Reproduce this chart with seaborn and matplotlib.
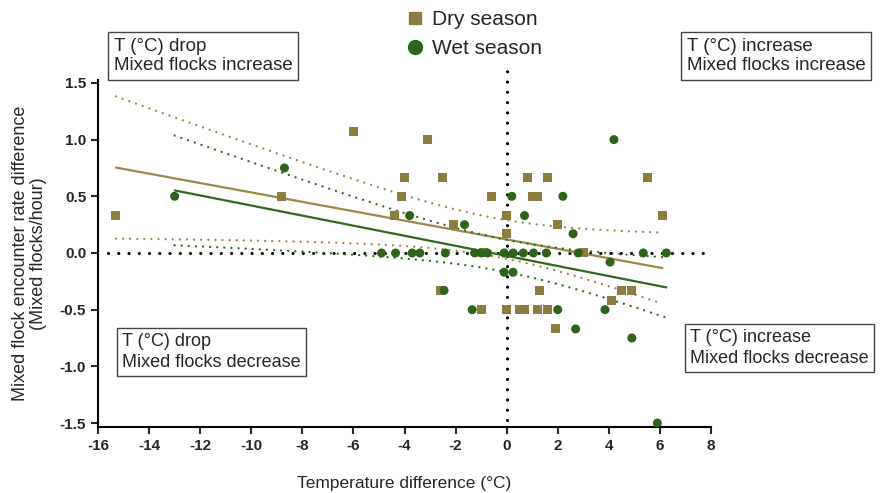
import numpy as np
import pandas as pd
import matplotlib
matplotlib.use("Agg")
import matplotlib.pyplot as plt
import seaborn as sns
from matplotlib.lines import Line2D

# Dry season points (temperature difference, encounter rate difference)
dry_x = [-15.3, -8.8, -6.0, -3.1, -4.0, -2.5, -4.1, -4.4, -2.1, -0.6, 0.0, 0.0,
         0.8, 1.6, 1.0, 1.2, 5.5, 6.1, 2.0, -0.9, 3.0, -2.6, -1.0, 0.0, 0.5,
         0.7, 1.2, 1.6, 1.3, 1.9, 4.5, 4.9, 4.1]
dry_y = [0.33, 0.5, 1.07, 1.0, 0.67, 0.67, 0.5, 0.33, 0.25, 0.5, 0.33, 0.17,
         0.67, 0.67, 0.5, 0.5, 0.67, 0.33, 0.25, 0.0, 0.0, -0.33, -0.5, -0.5, -0.5,
         -0.5, -0.5, -0.5, -0.33, -0.67, -0.33, -0.33, -0.42]

# Wet season points
wet_x = [-13.0, -8.7, -3.8, -1.65, 0.2, 0.7, 2.2, 4.2, 2.6,
         -4.9, -4.35, -3.7, -3.4, -2.4, -1.25, -1.0, -0.75, -0.1, 0.25, 0.65,
         1.05, 1.55, 2.8, 5.35, 6.25,
         -0.1, 0.25, 4.05, -2.45, -1.35, 2.0, 3.85, 2.7, 4.9, 5.9]
wet_y = [0.5, 0.75, 0.33, 0.25, 0.5, 0.33, 0.5, 1.0, 0.17,
         0.0, 0.0, 0.0, 0.0, 0.0, 0.0, 0.0, 0.0, 0.0, 0.0, 0.0,
         0.0, 0.0, 0.0, 0.0, 0.0,
         -0.17, -0.17, -0.08, -0.33, -0.5, -0.5, -0.5, -0.67, -0.75, -1.5]

seasons = ["Dry season", "Wet season"]
x_ticks = [-16, -14, -12, -10, -8, -6, -4, -2, 0, 2, 4, 6, 8]
y_ticks = [-1.5, -1.0, -0.5, 0.0, 0.5, 1.0, 1.5]

colors = {"Dry season": "#8c7d3e", "Wet season": "#2c6418"}
line_colors = {"Dry season": "#9a8a45", "Wet season": "#2f6a1c"}
markers = {"Dry season": "s", "Wet season": "o"}

df = pd.DataFrame({
    "temp": dry_x + wet_x,
    "rate": dry_y + wet_y,
    "season": [seasons[0]] * len(dry_x) + [seasons[1]] * len(wet_x),
})

sns.set_style("ticks")
plt.rcParams["font.family"] = ["Liberation Sans", "DejaVu Sans"]
plt.rcParams["axes.unicode_minus"] = False

fig = plt.figure(figsize=(8.81, 4.93), dpi=100)
ax = fig.add_axes([98 / 881, 1 - 427 / 493, (711 - 98) / 881, (427 - 80) / 493])

# reference zero lines
ax.plot([-15.6, 8], [0, 0], color="black", lw=2.3, ls=(0, (0.01, 3.2)),
        dash_capstyle="round", zorder=1)
ax.plot([0, 0], [-1.47, 1.68], color="black", lw=2.3, ls=(0, (0.01, 3.2)),
        dash_capstyle="round", zorder=1, clip_on=False)

# regression lines with 95% confidence bands
for s in seasons:
    sub = df[df["season"] == s]
    x = sub["temp"].to_numpy()
    y = sub["rate"].to_numpy()
    n = len(x)
    b, a = np.polyfit(x, y, 1)
    xs = np.linspace(x.min(), x.max(), 100)
    fit = a + b * xs
    resid = y - (a + b * x)
    sd = np.sqrt((resid ** 2).sum() / (n - 2))
    se = sd * np.sqrt(1 / n + (xs - x.mean()) ** 2 / ((x - x.mean()) ** 2).sum())
    t = 2.03
    ax.plot(xs, fit, color=line_colors[s], lw=1.6, zorder=2)
    for band in (fit + t * se, fit - t * se):
        ax.plot(xs, band, color=line_colors[s], lw=1.7, ls=(0, (0.01, 3.0)),
                dash_capstyle="round", zorder=2)

sns.scatterplot(data=df, x="temp", y="rate", hue="season", style="season",
                palette=colors, markers=markers, s=42, edgecolor="none",
                legend=False, ax=ax, zorder=3)

ax.set_xlim(-16, 8)
ax.set_ylim(-1.535, 1.526)
ax.set_xticks(x_ticks)
ax.set_yticks(y_ticks)
ax.set_yticklabels([f"{v:.1f}" for v in y_ticks])
ax.tick_params(axis="both", direction="out", length=5, width=1.5, labelsize=11)
for lab in ax.get_xticklabels() + ax.get_yticklabels():
    lab.set_fontweight("bold")
for side in ["top", "right"]:
    ax.spines[side].set_visible(False)
for side in ["left", "bottom"]:
    ax.spines[side].set_linewidth(1.5)
    ax.spines[side].set_color("black")

ax.set_xlabel("Temperature difference (°C)", fontsize=12.5, labelpad=17)
ax.set_ylabel("Mixed flock encounter rate difference\n(Mixed flocks/hour)",
              fontsize=13, labelpad=9, linespacing=1.1)

# legend
handles = [Line2D([], [], marker=markers[s], color=colors[s], ls="none",
                  markersize=10 if s == "Wet season" else 9) for s in seasons]
fig.legend(handles, seasons, loc="upper center", bbox_to_anchor=(0.536, 1.005),
           frameon=False, fontsize=15, handletextpad=0.2, labelspacing=0.5,
           handlelength=1.2, borderaxespad=0.2)

# quadrant boxes
box = dict(boxstyle="square,pad=0.3", fc="white", ec="#444444", lw=1)
fig.text(114 / 881, 1 - 56 / 493, "T (°C) drop\nMixed flocks increase",
         fontsize=13.5, va="center", ha="left", bbox=box, linespacing=1.15)
fig.text(687 / 881, 1 - 56 / 493, "T (°C) increase\nMixed flocks increase",
         fontsize=13.5, va="center", ha="left", bbox=box, linespacing=1.15)
fig.text(122 / 881, 1 - 352 / 493, "T (°C) drop\nMixed flocks decrease",
         fontsize=13, va="center", ha="left", bbox=box, linespacing=1.25)
fig.text(690 / 881, 1 - 348 / 493, "T (°C) increase\nMixed flocks decrease",
         fontsize=13, va="center", ha="left", bbox=box, linespacing=1.25)

fig.savefig("out.png", dpi=100)
